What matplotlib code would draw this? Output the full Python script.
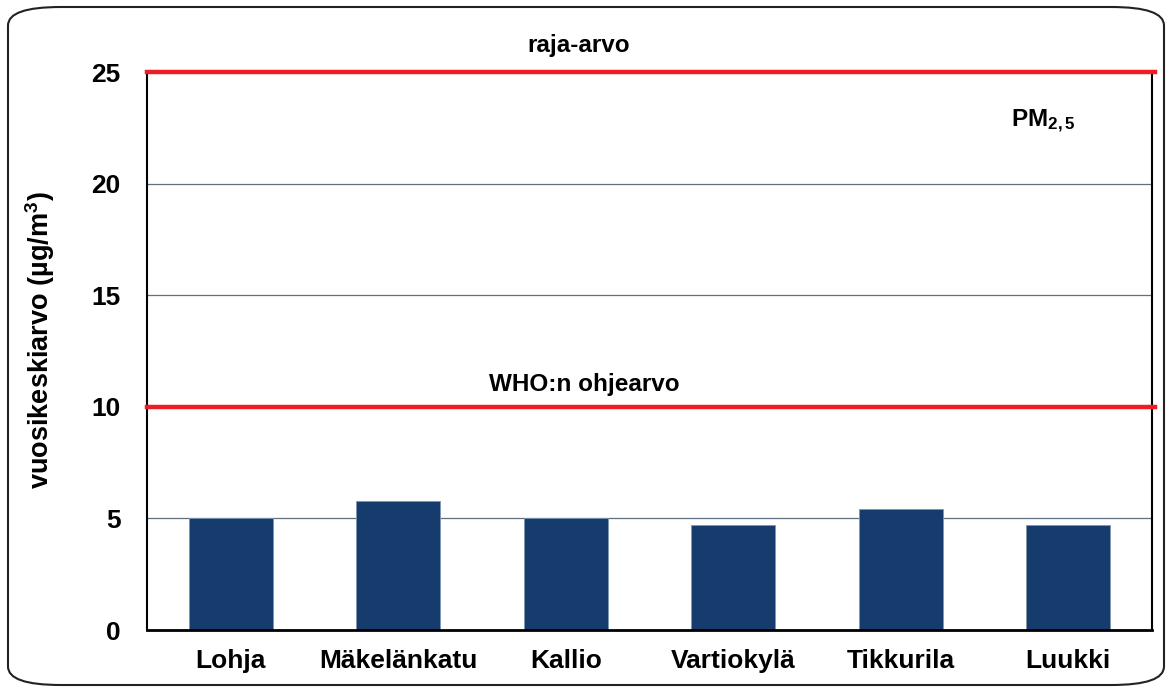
import numpy as np
import matplotlib
matplotlib.use("Agg")
import matplotlib.pyplot as plt
from matplotlib.patches import FancyBboxPatch

plt.rcParams['font.family'] = ['Liberation Sans', 'DejaVu Sans']
plt.rcParams['font.weight'] = 'bold'
plt.rcParams['mathtext.fontset'] = 'custom'
plt.rcParams['mathtext.rm'] = 'Liberation Sans:bold'
plt.rcParams['mathtext.bf'] = 'Liberation Sans:bold'
plt.rcParams['mathtext.it'] = 'Liberation Sans:bold'

# data
stations = ['Lohja', 'Mäkelänkatu', 'Kallio', 'Vartiokylä', 'Tikkurila', 'Luukki']
pm25 = [5.0, 5.8, 5.0, 4.7, 5.4, 4.7]
limit_value = 25
who_value = 10
yticks = [0, 5, 10, 15, 20, 25]

fig = plt.figure(figsize=(11.72, 6.93), dpi=100)
ax = fig.add_axes([147 / 1172, 1 - 630 / 693, (1152 - 147) / 1172, (630 - 72) / 693])

# rounded frame round the whole picture
frame = FancyBboxPatch((8 / 1172, 8 / 693), 1156 / 1172, 678 / 693,
                       boxstyle="round,pad=0,rounding_size=0.045",
                       transform=fig.transFigure, fill=False,
                       edgecolor='#222222', linewidth=1.5,
                       mutation_aspect=693 / 1172)
fig.patches.append(frame)

x = np.arange(len(stations))
for y in [5, 15, 20]:
    ax.axhline(y, color='#5f7180', linewidth=0.9, zorder=1)
ax.bar(x, pm25, width=0.5, color='#163c6e', edgecolor='#7f96b0',
       linewidth=0.6, zorder=2)

ax.set_xlim(-0.5, len(stations) - 0.5)
ax.set_ylim(0, 25)
ax.axhline(limit_value, xmin=0, xmax=1.003, color='#ee1c25', linewidth=3.2,
           zorder=4, clip_on=False)
ax.axhline(who_value, xmin=0, xmax=1.003, color='#ee1c25', linewidth=3.2,
           zorder=4, clip_on=False)

ax.set_yticks(yticks)
ax.set_yticklabels([str(v) for v in yticks], fontsize=19, fontweight='bold')
ax.set_xticks(x)
ax.set_xticklabels(stations, fontsize=19, fontweight='bold')
ax.tick_params(axis='both', length=0)
ax.tick_params(axis='y', pad=19)
ax.tick_params(axis='x', pad=14)

ax.spines['top'].set_visible(False)
ax.spines['left'].set_linewidth(1.5)
ax.spines['right'].set_linewidth(1.5)
ax.spines['bottom'].set_linewidth(2)

ax.set_ylabel('vuosikeskiarvo (µg/m$^{3}$)', fontsize=19.5, fontweight='bold')
ax.yaxis.set_label_coords(-0.09, 0.52)

ax.text(2.08, 26.2, 'raja-arvo', ha='center', va='center', fontsize=17.5,
        fontweight='bold')
ax.text(2.11, 11.0, 'WHO:n ohjearvo', ha='center', va='center', fontsize=17.5,
        fontweight='bold')
ax.text(4.85, 22.8, 'PM$_{2,5}$', ha='center', va='center', fontsize=17.5,
        fontweight='bold')

fig.savefig('out.png', dpi=100)
